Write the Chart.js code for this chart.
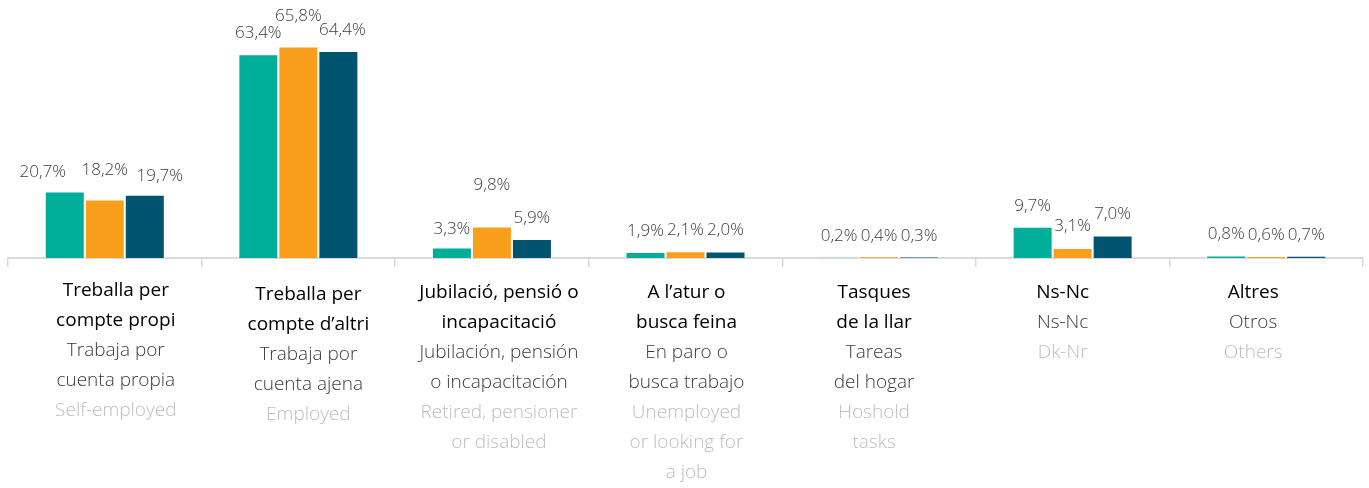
<!DOCTYPE html>
<html>
<head>
<meta charset="utf-8">
<script src="https://cdn.jsdelivr.net/npm/chart.js@4"></script>
<style>
  html, body { margin: 0; padding: 0; background: #fff; }
  #wrap { width: 1369px; height: 488px; }
</style>
</head>
<body>
<div id="wrap"><canvas id="myChart"></canvas></div>
<script>
// categories, one line array per language
const catLabelsCa = [
  ['Treballa per', 'compte propi'],
  ['Treballa per', 'compte d’altri'],
  ['Jubilació, pensió o', 'incapacitació'],
  ['A l’atur o', 'busca feina'],
  ['Tasques', 'de la llar'],
  ['Ns-Nc'],
  ['Altres']
]
const catLabelsEs = [
  ['Trabaja por', 'cuenta propia'],
  ['Trabaja por', 'cuenta ajena'],
  ['Jubilación, pensión', 'o incapacitación'],
  ['En paro o', 'busca trabajo'],
  ['Tareas', 'del hogar'],
  ['Ns-Nc'],
  ['Otros']
]
const catLabelsEn = [
  ['Self-employed'],
  ['Employed'],
  ['Retired, pensioner', 'or disabled'],
  ['Unemployed', 'or looking for', 'a job'],
  ['Hoshold', 'tasks'],
  ['Dk-Nr'],
  ['Others']
]

// series values (%)
const serie1 = [20.7, 63.4, 3.3, 1.9, 0.2, 9.7, 0.8]
const serie2 = [18.2, 65.8, 9.8, 2.1, 0.4, 3.1, 0.6]
const serie3 = [19.7, 64.4, 5.9, 2.0, 0.3, 7.0, 0.7]
const serieNames = ['Sèrie 1', 'Sèrie 2', 'Sèrie 3']

const colors = ['#00ae9a', '#fa9f1b', '#00546f']

// small manual label shifts like in the original (dataset-index: [dx, dy])
const labelNudge = {
  '0-0': [-22, 2], '1-0': [0, -8], '2-0': [15, 2],
  '1-1': [0, -9], '2-1': [4, 0],
  '0-2': [0, 3], '1-2': [0, -20],
  '1-5': [0, -1]
}
const catNudgeX = [11, 10, 7, 1, -5, -10, -13]
const catNudgeY = [-2, 2, 0, 0, 0, 0, 0]

const fmt = v => v.toFixed(1).replace('.', ',') + '%'

const valueLabels = {
  id: 'valueLabels',
  afterDatasetsDraw(chart) {
    const ctx = chart.ctx
    ctx.save()
    ctx.font = '300 17px "Open Sans", "Noto Sans", sans-serif'
    ctx.fillStyle = '#404040'
    ctx.textAlign = 'center'
    ctx.textBaseline = 'middle'
    chart.data.datasets.forEach((ds, d) => {
      chart.getDatasetMeta(d).data.forEach((bar, i) => {
        const n = labelNudge[d + '-' + i] || [0, 0]
        ctx.fillText(fmt(ds.data[i]), bar.x + n[0], bar.y - 21 + n[1])
      })
    })
    ctx.restore()
  }
}

const catLabels = {
  id: 'catLabels',
  afterDraw(chart) {
    const ctx = chart.ctx
    const xs = chart.scales.x
    const top = chart.chartArea.bottom + 35
    ctx.save()
    ctx.textAlign = 'center'
    ctx.textBaseline = 'middle'
    for (let i = 0; i < catLabelsCa.length; i++) {
      const x = xs.getPixelForValue(i) + catNudgeX[i]
      let y = top + catNudgeY[i]
      const groups = [
        [catLabelsCa[i], '400 19px "Open Sans", "Noto Sans", sans-serif', '#000000'],
        [catLabelsEs[i], '300 19px "Open Sans", "Noto Sans", sans-serif', '#3b3b3b'],
        [catLabelsEn[i], '300 19px "Open Sans", "Noto Sans", sans-serif', '#bdbdbd']
      ]
      groups.forEach(g => {
        ctx.font = g[1]
        ctx.fillStyle = g[2]
        g[0].forEach(line => {
          ctx.fillText(line, x, y)
          y += 30
        })
      })
    }
    ctx.restore()
  }
}

const ctx = document.getElementById('myChart').getContext('2d')
const myChart = new Chart(ctx, {
  type: 'bar',
  data: {
    labels: catLabelsCa.map(l => l.join(' ')),
    datasets: [serie1, serie2, serie3].map((vals, k) => ({
      label: serieNames[k],
      data: vals,
      backgroundColor: colors[k],
      borderColor: '#ffffff',
      borderWidth: 1,
      barPercentage: 1,
      categoryPercentage: 0.62
    }))
  },
  options: {
    responsive: true,
    maintainAspectRatio: false,
    animation: false,
    layout: { padding: { top: 33, left: 8, right: 6, bottom: 0 } },
    plugins: {
      legend: { display: false },
      tooltip: { enabled: false }
    },
    scales: {
      x: {
        grid: {
          offset: true,
          drawOnChartArea: false,
          drawTicks: true,
          tickLength: 9,
          color: '#d9d9d9',
          lineWidth: 1.5
        },
        border: { color: '#d9d9d9', width: 2 },
        ticks: { display: false },
        afterFit: s => { s.height = 230 }
      },
      y: {
        display: false,
        min: 0,
        max: 70
      }
    }
  },
  plugins: [valueLabels, catLabels]
})
</script>
</body>
</html>
